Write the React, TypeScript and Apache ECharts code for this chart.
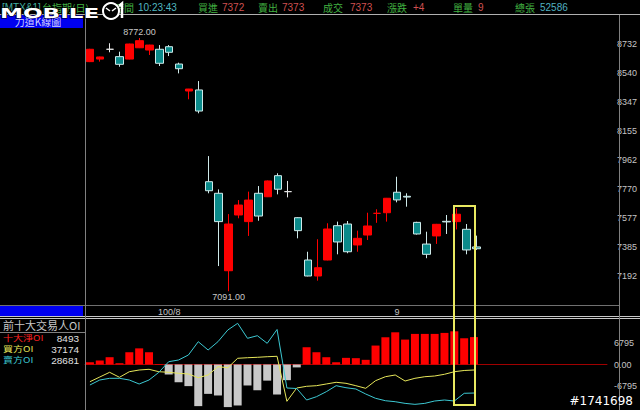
import { useEffect, useRef } from 'react';
import * as echarts from 'echarts';

// ---- data ----
const categories = [
  '07/20', '07/21', '07/22', '07/25', '07/26', '07/27', '07/28', '07/29',
  '08/01', '08/02', '08/03', '08/04', '08/05', '08/08', '08/09', '08/10', '08/11', '08/12',
  '08/15', '08/16', '08/17', '08/18', '08/19', '08/22', '08/23', '08/24', '08/25', '08/26',
  '08/29', '08/30', '08/31',
  '09/01', '09/02', '09/05', '09/06', '09/07', '09/08', '09/09', '09/13', '09/14',
];
const emptySlots = 13;
const monthStartLabels: Record<string, string> = { '08/01': '100/8', '09/01': '9' };

// [open, close, low, high]
const ohlc: number[][] = [
  [8615, 8697, 8612, 8700], [8632, 8646, 8615, 8648], [8697, 8697, 8677, 8737], [8648, 8597, 8581, 8681],
  [8632, 8732, 8630, 8734], [8707, 8754, 8705, 8772], [8692, 8725, 8659, 8727], [8697, 8604, 8586, 8725],
  [8714, 8677, 8652, 8725], [8599, 8568, 8537, 8608], [8420, 8433, 8365, 8434], [8427, 8287, 8272, 8486],
  [7818, 7758, 7741, 7988], [7741, 7553, 7258, 7767], [7227, 7537, 7091, 7603], [7597, 7663, 7575, 7696],
  [7553, 7696, 7458, 7752], [7741, 7590, 7559, 7789], [7718, 7823, 7716, 7826], [7858, 7768, 7734, 7874],
  [7752, 7752, 7714, 7823], [7579, 7493, 7442, 7582], [7298, 7192, 7190, 7353], [7192, 7247, 7161, 7436],
  [7298, 7504, 7296, 7542], [7526, 7418, 7336, 7553], [7537, 7353, 7343, 7557], [7398, 7442, 7353, 7493],
  [7464, 7524, 7431, 7612], [7608, 7608, 7545, 7635], [7612, 7708, 7553, 7710], [7748, 7697, 7681, 7851],
  [7721, 7716, 7652, 7741], [7548, 7471, 7467, 7552], [7404, 7336, 7310, 7486], [7458, 7535, 7405, 7538],
  [7555, 7551, 7471, 7597], [7553, 7602, 7501, 7641], [7502, 7365, 7336, 7537], [7385, 7373, 7365, 7460],
];

const priceTicks = [7192, 7384.5, 7577, 7769.5, 7962, 8154.5, 8347, 8539.5, 8732];
const oiTicks = [-6795, 0, 6795];

const netOI = [
  700, 1240, 2260, 400, 3800, 5000, 3800, 150, -3100, -5500, -6700, -12900, -9100, -9600, -13200, -12700,
  -6500, -8000, -5000, -9300, -4850, -900, 5350, 3800, 2260, 700, 2060, 1960, 1450, 5870, 8440, 9980,
  7720, 9480, 9480, 9480, 9790, 10290, 8130, 8493,
];
const buyOI = [
  32860, 34590, 36325, 34480, 36545, 37174, 37430, 36545, 36325, 35955, 35700, 34330, 35330, 38390, 38020, 41490,
  41710, 41860, 42080, 42230, 25620, 30530, 31160, 31380, 32010, 32635, 32265, 31380, 30420, 33225, 34700, 35330,
  33115, 34110, 34700, 34960, 35590, 36545, 36990, 37174,
];
const sellOI = [
  31640, 33480, 34110, 34110, 33480, 32010, 33480, 36325, 40240, 40865, 42710, 47620, 44555, 47620, 51935, 54400,
  48870, 49830, 47020, 52120, 30530, 30350, 26100, 27320, 29170, 31380, 30640, 30160, 28320, 26730, 25840, 25470,
  24860, 24500, 24860, 25735, 26100, 25735, 28575, 28681,
];

const headerLabels = ['買進', '賣出', '成交', '漲跌', '單量', '總張'];
const headerValues = ['7372', '7373', '7373', '+4', '9', '52586'];
const headerTime = '10:23:43';
const oiLabels = ['十大淨OI', '買方OI', '賣方OI'];

// ---- styles / layout ----
const CJK = '"Noto Sans CJK TC", sans-serif';
const NUM = '"Liberation Sans", Arial, sans-serif';
const RED = '#ff0000';
const TEAL = '#0a8a8a';
const TEAL_BORDER = '#cfeaea';
const AXIS_TEXT = '#c4c4c4';
const dojiColors: Record<number, string> = { 2: '#e6e6e6', 20: '#e6e6e6', 29: '#ff0000' };

function txt(x: number, y: number, text: string, fill: string, size: number, family: string, align = 'left', extra: any = {}) {
  return {
    type: 'text', x, y, silent: true, ...extra,
    style: {
      text, fill, fontSize: size, fontFamily: family, lineHeight: size,
      align, textAlign: align, verticalAlign: 'middle', textVerticalAlign: 'middle', ...(extra.style || {}),
    },
  };
}
function ln(x1: number, y1: number, x2: number, y2: number, stroke: string, z = 50) {
  return { type: 'line', silent: true, z, shape: { x1, y1, x2, y2 }, style: { stroke, lineWidth: 1 } };
}

function buildOption() {
  const xData = [...categories, ...Array(emptySlots).fill('')];
  const candleData = ohlc.map((d, i) =>
    dojiColors[i] !== undefined
      ? { value: d, itemStyle: { borderColor: dojiColors[i], borderColor0: dojiColors[i], borderColorDoji: dojiColors[i] } }
      : d
  );
  const headerLabelX = [198, 258, 323, 387, 453, 515];
  const headerValueX = [222, 282, 350, 413, 478, 540];
  const oiLabelColors = ['#ff2020', '#e6e65a', '#3cc8d2'];
  const oiLabelY = [338.5, 349.5, 360.5];
  const last = netOI.length - 1;
  const oiValues = [netOI[last], buyOI[last], sellOI[last]];

  const graphics: any[] = [
    // header
    txt(2, 7, '[MTX&1]', '#40b0a0', 10, NUM),
    txt(42, 7, '台指期(日)', '#40b040', 10, CJK),
    txt(114, 7, '時間', '#40b040', 10, CJK),
    txt(138, 7, headerTime, '#50b8c0', 10, NUM),
    ...headerLabels.map((l, i) => txt(headerLabelX[i], 7, l, '#40b040', 10, CJK)),
    ...headerValues.map((v, i) => txt(headerValueX[i], 7, v, i === headerValues.length - 1 ? '#50b0c0' : '#d05050', 10, NUM)),
    // logo watermark
    { type: 'text', x: 0, y: 13, scaleX: 1.65, silent: true, z: 60,
      style: { text: 'MOBILE', fill: '#ffffff', stroke: '#000000', lineWidth: 1, fontSize: 14, fontWeight: 'bold', fontFamily: '"DejaVu Sans", sans-serif', align: 'left', textAlign: 'left', verticalAlign: 'middle', textVerticalAlign: 'middle' } },
    { type: 'circle', silent: true, z: 60, shape: { cx: 111, cy: 11, r: 8 }, style: { fill: '#000', stroke: '#ffffff', lineWidth: 2 } },
    { type: 'line', silent: true, z: 61, shape: { x1: 106, y1: 8, x2: 110, y2: 11 }, style: { stroke: '#fff', lineWidth: 1.5 } },
    { type: 'line', silent: true, z: 61, shape: { x1: 116, y1: 8, x2: 112, y2: 11 }, style: { stroke: '#fff', lineWidth: 1.5 } },
    { type: 'polyline', silent: true, z: 61, shape: { points: [[119, 6], [122, 3.5], [122, 18]] }, style: { stroke: '#fff', lineWidth: 2.5, fill: 'none' } },
    // panel lines
    ln(0, 14.5, 640, 14.5, '#b0b0b0'),
    ln(0, 305.5, 619, 305.5, '#707070'),
    ln(0, 316.5, 640, 316.5, '#c8c8c8'),
    ln(0, 318.5, 640, 318.5, '#c8c8c8'),
    ln(85.5, 15, 85.5, 410, '#808080'),
    ln(619.5, 15, 619.5, 410, '#808080'),
    ln(0, 332.5, 85, 332.5, '#808080'),
    // left panel boxes
    { type: 'rect', silent: true, z: 40, shape: { x: 0, y: 15, width: 83, height: 13 }, style: { fill: '#0000f0' } },
    txt(38, 21.5, '力道K線圖', '#d0d0ff', 10, CJK, 'center', { z: 41 }),
    { type: 'rect', silent: true, z: 40, shape: { x: 0, y: 306, width: 83, height: 10 }, style: { fill: '#0000f0' } },
    txt(3, 325, '前十大交易人OI', '#c8c8c8', 11, CJK),
    ...oiLabels.map((l, i) => txt(3, oiLabelY[i], l, oiLabelColors[i], 10, CJK, 'left', { scaleY: 0.76 })),
    ...oiValues.map((v, i) => txt(79, oiLabelY[i], String(v), '#e0e0e0', 10, NUM, 'right', { scaleY: 0.9 })),
    // highlight box
    { type: 'rect', silent: true, z: 100, shape: { x: 454, y: 206, width: 21, height: 199 }, style: { fill: 'none', stroke: '#e8e860', lineWidth: 2 } },
    // watermark
    txt(633, 401, '#1741698', '#ffffff', 12, '"DejaVu Sans", sans-serif', 'right', { z: 100 }),
  ];

  return {
    backgroundColor: '#000000',
    animation: false,
    grid: [
      { left: 85, top: 15, width: 530, height: 290 },
      { left: 85, top: 319, width: 530, height: 91 },
    ],
    xAxis: [
      {
        type: 'category', gridIndex: 0, data: xData, boundaryGap: true,
        axisLine: { show: false }, axisTick: { show: false }, splitLine: { show: false },
        axisLabel: {
          show: true, margin: 2, color: AXIS_TEXT, fontSize: 9, fontFamily: NUM,
          interval: (_i: number, v: string) => v in monthStartLabels,
          formatter: (v: string) => monthStartLabels[v] || '',
        },
      },
      {
        type: 'category', gridIndex: 1, data: xData, boundaryGap: true,
        axisLine: { show: true, onZero: true, onZeroAxisIndex: 1, lineStyle: { color: '#a00000', width: 1 } },
        axisTick: { show: false }, axisLabel: { show: false }, splitLine: { show: false },
      },
    ],
    yAxis: [
      {
        type: 'value', gridIndex: 0, position: 'right', offset: 4, min: 6999.5, max: 8924.5,
        axisLine: { show: false }, axisTick: { show: false }, splitLine: { show: false },
        axisLabel: { customValues: priceTicks, formatter: (v: number) => String(Math.round(v)), color: AXIS_TEXT, fontSize: 9, fontFamily: NUM, margin: 3 },
      },
      {
        type: 'value', gridIndex: 1, position: 'right', offset: 4, min: -14100, max: 14100,
        axisLine: { show: false }, axisTick: { show: false }, splitLine: { show: false },
        axisLabel: { customValues: oiTicks, formatter: (v: number) => (v === 0 ? '0.00' : String(v)), color: AXIS_TEXT, fontSize: 9, fontFamily: NUM, margin: 3 },
      },
      { type: 'value', gridIndex: 1, min: 22414, max: 55993, show: false },
    ],
    series: [
      {
        type: 'candlestick', xAxisIndex: 0, yAxisIndex: 0, barWidth: 8, data: candleData,
        itemStyle: { color: RED, color0: TEAL, borderColor: RED, borderColor0: TEAL_BORDER, borderColorDoji: '#e6e6e6', borderWidth: 1 },
        markPoint: {
          symbol: 'circle', symbolSize: 1, itemStyle: { color: 'rgba(0,0,0,0)' },
          data: [
            { type: 'max', valueDim: 'highest', label: { position: 'top', distance: 1 } },
            { type: 'min', valueDim: 'lowest', label: { position: 'bottom', distance: 1 } },
          ],
          label: { show: true, color: '#c8c8c8', fontSize: 9, fontFamily: NUM, formatter: (p: any) => Number(p.value).toFixed(2) },
        },
      },
      {
        type: 'bar', xAxisIndex: 1, yAxisIndex: 1, barWidth: 8, data: netOI,
        itemStyle: { color: (p: any) => (p.value >= 0 ? RED : '#c8c8c8') },
      },
      {
        type: 'line', xAxisIndex: 1, yAxisIndex: 2, data: buyOI, showSymbol: false, symbol: 'none',
        lineStyle: { color: '#e6e65a', width: 1 }, itemStyle: { color: '#e6e65a' },
      },
      {
        type: 'line', xAxisIndex: 1, yAxisIndex: 2, data: sellOI, showSymbol: false, symbol: 'none',
        lineStyle: { color: '#3cc8d2', width: 1 }, itemStyle: { color: '#3cc8d2' },
      },
    ],
    graphic: { elements: graphics },
  };
}

export default function App() {
  const ref = useRef<HTMLDivElement>(null);
  useEffect(() => {
    if (!ref.current) return;
    const chart = echarts.init(ref.current, null, { renderer: 'svg' });
    chart.setOption(buildOption() as any);
    return () => chart.dispose();
  }, []);
  return <div ref={ref} style={{ position: 'fixed', left: 0, top: 0, width: 640, height: 410, background: '#000' }} />;
}
